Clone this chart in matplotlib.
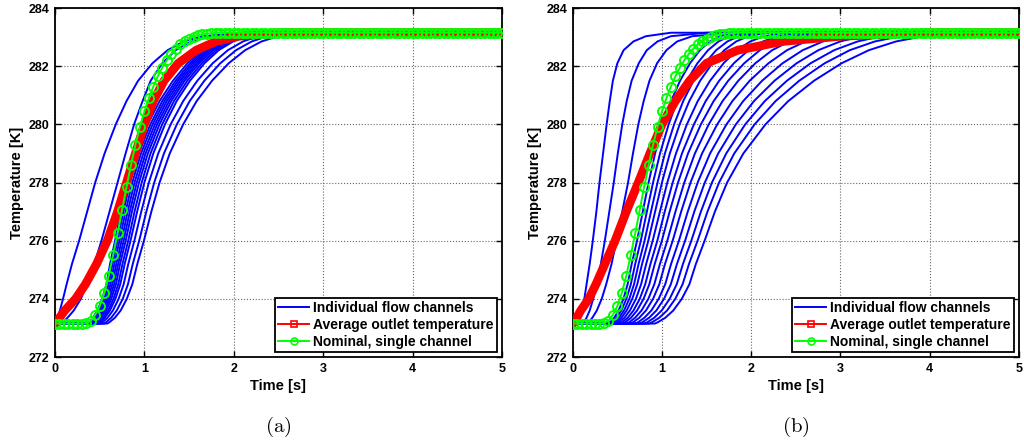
import numpy as np
import matplotlib
matplotlib.use("Agg")
import matplotlib.pyplot as plt
from matplotlib.lines import Line2D

plt.rcParams['font.family'] = ['Liberation Sans', 'DejaVu Sans']
plt.rcParams['font.weight'] = 'bold'
plt.rcParams['axes.labelweight'] = 'bold'
plt.rcParams['mathtext.fontset'] = 'cm'

# temperature levels [K]; each channel is given by the time [s] it reaches each level
levels = [273.15, 273.2, 273.35, 273.6, 274.0, 274.5, 275.2, 276.0, 277.0, 278.0,
          279.0, 280.0, 280.8, 281.5, 282.1, 282.55, 282.85, 283.03, 283.15]
T_in = 273.15
T_out = 283.15
t_end = 5.0

# panel (a): individual flow channels
channels_a = [
    [0.0, 0.01, 0.03, 0.055, 0.09, 0.13, 0.19, 0.27, 0.36, 0.45, 0.555, 0.68, 0.80, 0.93, 1.09, 1.26, 1.44, 1.65, 2.15],
    [0.05, 0.09, 0.14, 0.21, 0.29, 0.355, 0.44, 0.52, 0.61, 0.70, 0.79, 0.885, 0.98, 1.07, 1.2, 1.35, 1.52, 1.72, 2.25],
    [0.36, 0.38, 0.425, 0.475, 0.528, 0.575, 0.616, 0.672, 0.736, 0.81, 0.907, 1.037, 1.17, 1.32, 1.482, 1.642, 1.802, 1.962, 2.218],
    [0.381, 0.401, 0.447, 0.498, 0.552, 0.600, 0.643, 0.70, 0.765, 0.84, 0.937, 1.067, 1.20, 1.35, 1.512, 1.672, 1.832, 1.992, 2.248],
    [0.397, 0.418, 0.465, 0.517, 0.572, 0.621, 0.664, 0.722, 0.789, 0.865, 0.962, 1.092, 1.225, 1.375, 1.537, 1.697, 1.857, 2.017, 2.273],
    [0.413, 0.434, 0.482, 0.535, 0.591, 0.641, 0.686, 0.745, 0.813, 0.89, 0.988, 1.118, 1.25, 1.40, 1.562, 1.722, 1.882, 2.042, 2.298],
    [0.429, 0.451, 0.499, 0.553, 0.610, 0.661, 0.707, 0.768, 0.837, 0.915, 1.013, 1.143, 1.276, 1.425, 1.587, 1.747, 1.907, 2.067, 2.323],
    [0.445, 0.467, 0.517, 0.572, 0.630, 0.682, 0.728, 0.791, 0.861, 0.94, 1.039, 1.169, 1.301, 1.45, 1.612, 1.772, 1.932, 2.092, 2.348],
    [0.466, 0.488, 0.539, 0.595, 0.654, 0.707, 0.755, 0.819, 0.890, 0.97, 1.069, 1.199, 1.331, 1.48, 1.642, 1.802, 1.962, 2.122, 2.378],
    [0.483, 0.506, 0.557, 0.615, 0.676, 0.730, 0.780, 0.845, 0.919, 1.0, 1.100, 1.230, 1.361, 1.51, 1.672, 1.832, 1.992, 2.152, 2.408],
    [0.51, 0.534, 0.588, 0.648, 0.712, 0.768, 0.820, 0.888, 0.965, 1.05, 1.155, 1.294, 1.434, 1.592, 1.764, 1.934, 2.104, 2.274, 2.546],
    [0.548, 0.573, 0.629, 0.691, 0.758, 0.816, 0.870, 0.942, 1.022, 1.11, 1.219, 1.363, 1.507, 1.671, 1.849, 2.025, 2.201, 2.377, 2.659],
    [0.585, 0.611, 0.670, 0.735, 0.803, 0.865, 0.921, 0.995, 1.078, 1.17, 1.284, 1.434, 1.585, 1.757, 1.943, 2.127, 2.311, 2.495, 2.789],
]

# panel (b): individual flow channels
channels_b = [
    [0.05, 0.065, 0.085, 0.105, 0.13, 0.155, 0.19, 0.225, 0.265, 0.30, 0.34, 0.38, 0.415, 0.45, 0.50, 0.57, 0.68, 0.82, 1.1],
    [0.10, 0.125, 0.155, 0.19, 0.23, 0.27, 0.315, 0.36, 0.41, 0.46, 0.505, 0.555, 0.605, 0.66, 0.74, 0.83, 0.95, 1.1, 1.5],
    [0.15, 0.18, 0.22, 0.27, 0.325, 0.375, 0.435, 0.49, 0.555, 0.62, 0.675, 0.735, 0.795, 0.86, 0.945, 1.05, 1.17, 1.34, 1.8],
    [0.40, 0.42, 0.465, 0.515, 0.568, 0.615, 0.661, 0.721, 0.785, 0.85, 0.923, 1.013, 1.102, 1.2025, 1.314, 1.425, 1.535, 1.646, 1.822],
    [0.423, 0.444, 0.492, 0.545, 0.601, 0.651, 0.700, 0.763, 0.831, 0.90, 0.978, 1.075, 1.170, 1.278, 1.397, 1.516, 1.634, 1.753, 1.942],
    [0.446, 0.468, 0.519, 0.575, 0.634, 0.687, 0.738, 0.805, 0.877, 0.95, 1.033, 1.136, 1.238, 1.353, 1.481, 1.607, 1.733, 1.859, 2.061],
    [0.469, 0.493, 0.546, 0.605, 0.667, 0.723, 0.777, 0.847, 0.923, 1.0, 1.088, 1.198, 1.306, 1.428, 1.564, 1.698, 1.832, 1.966, 2.181],
    [0.498, 0.523, 0.579, 0.641, 0.708, 0.766, 0.823, 0.896, 0.977, 1.06, 1.157, 1.279, 1.401, 1.539, 1.69, 1.84, 1.99, 2.14, 2.38],
    [0.531, 0.557, 0.616, 0.681, 0.751, 0.812, 0.871, 0.948, 1.031, 1.12, 1.224, 1.358, 1.490, 1.641, 1.805, 1.969, 2.132, 2.295, 2.556],
    [0.564, 0.591, 0.653, 0.721, 0.794, 0.858, 0.919, 0.999, 1.086, 1.18, 1.292, 1.436, 1.579, 1.742, 1.921, 2.097, 2.273, 2.449, 2.731],
    [0.607, 0.635, 0.699, 0.771, 0.847, 0.914, 0.977, 1.060, 1.151, 1.25, 1.369, 1.524, 1.679, 1.855, 2.046, 2.235, 2.425, 2.614, 2.918],
    [0.650, 0.679, 0.746, 0.821, 0.900, 0.970, 1.034, 1.120, 1.215, 1.32, 1.449, 1.619, 1.789, 1.983, 2.193, 2.401, 2.609, 2.817, 3.150],
    [0.703, 0.734, 0.803, 0.881, 0.963, 1.036, 1.102, 1.190, 1.289, 1.40, 1.539, 1.723, 1.910, 2.122, 2.351, 2.577, 2.803, 3.029, 3.391],
    [0.751, 0.783, 0.856, 0.937, 1.023, 1.099, 1.168, 1.259, 1.362, 1.48, 1.630, 1.828, 2.031, 2.261, 2.508, 2.752, 2.997, 3.242, 3.633],
    [0.804, 0.838, 0.913, 0.997, 1.086, 1.165, 1.235, 1.329, 1.436, 1.56, 1.720, 1.933, 2.152, 2.400, 2.665, 2.929, 3.192, 3.455, 3.876],
    [0.857, 0.892, 0.970, 1.057, 1.149, 1.231, 1.303, 1.399, 1.510, 1.64, 1.810, 2.038, 2.273, 2.538, 2.823, 3.104, 3.386, 3.668, 4.118],
    [0.920, 0.956, 1.037, 1.127, 1.222, 1.307, 1.380, 1.478, 1.593, 1.73, 1.912, 2.160, 2.415, 2.704, 3.012, 3.318, 3.623, 3.928, 4.417],
]

# average outlet temperature (times at the same levels)
average_a = [0.0, 0.015, 0.05, 0.11, 0.23, 0.34, 0.465, 0.585, 0.70, 0.80,
             0.90, 1.0, 1.10, 1.22, 1.38, 1.58, 1.80, 2.05, 2.55]
average_b = [0.0, 0.015, 0.045, 0.09, 0.18, 0.26, 0.36, 0.475, 0.60, 0.735,
             0.865, 1.0, 1.15, 1.31, 1.50, 1.85, 2.35, 3.0, 4.0]

# nominal single channel, sampled every 0.05 s
nominal_t = np.linspace(0, 5, 101)
nominal_T = [273.15, 273.15, 273.15, 273.15, 273.15, 273.15, 273.15, 273.16,
             273.25, 273.45, 273.75, 274.2, 274.8, 275.5, 276.25, 277.05,
             277.85, 278.6, 279.3, 279.9, 280.45, 280.9, 281.3, 281.65,
             281.95, 282.2, 282.42, 282.6, 282.75, 282.86, 282.95, 283.02,
             283.07, 283.1, 283.12, 283.13, 283.14, 283.15] + [283.15] * 63

blue = (0, 0, 1)
red = (1, 0, 0)
green = (0, 1, 0)


def draw(ax, channels, average, tag):
    ys = [T_in] + levels + [T_out]
    for ch in channels:
        ax.plot([0] + ch + [t_end], ys, color=blue, lw=1.4, zorder=2)
    ax.plot([0] + average + [t_end], ys, color=red, lw=6.3, zorder=3,
            solid_joinstyle='miter')
    ax.plot(nominal_t, nominal_T, color=green, lw=1.4, marker='o', ms=6.5,
            mfc='none', mew=1.4, zorder=4)

    ax.set_xlim(0, 5)
    ax.set_ylim(272, 284)
    ax.set_xticks(range(0, 6))
    ax.set_yticks(range(272, 285, 2))
    ax.grid(True, linestyle=':', color='0.4', lw=0.8)
    ax.tick_params(direction='in', length=4, width=1, labelsize=9, pad=4,
                   top=True, right=True)
    for s in ax.spines.values():
        s.set_linewidth(1.3)
    ax.set_xlabel('Time [s]', fontsize=10.5, labelpad=3)
    ax.set_ylabel('Temperature [K]', fontsize=10.5, labelpad=3)

    handles = [
        Line2D([], [], color=blue, lw=1.4),
        Line2D([], [], color=red, lw=1.4, marker='s', ms=4.5, mfc='none', mew=1.2),
        Line2D([], [], color=green, lw=1.4, marker='o', ms=5, mfc='none', mew=1.2),
    ]
    labels = ['Individual flow channels', 'Average outlet temperature',
              'Nominal, single channel']
    leg = ax.legend(handles, labels, loc='lower right', fontsize=10,
                    fancybox=False, edgecolor='k', framealpha=1,
                    borderaxespad=0.35, handlelength=2.2, handletextpad=0.3,
                    labelspacing=0.2, borderpad=0.25)
    leg.get_frame().set_linewidth(1.3)

    pos = ax.get_position()
    fig.text(pos.x0 + pos.width / 2, 0.045, r'$\mathrm{(' + tag + ')}$',
             ha='center', va='center', fontsize=15)


fig = plt.figure(figsize=(10.24, 4.47), dpi=100)
ax_a = fig.add_axes([0.0537, 0.2013, 0.4365, 0.7808])
ax_b = fig.add_axes([0.5593, 0.2013, 0.4358, 0.7808])

draw(ax_a, channels_a, average_a, 'a')
draw(ax_b, channels_b, average_b, 'b')

fig.savefig('out.png', dpi=100)
